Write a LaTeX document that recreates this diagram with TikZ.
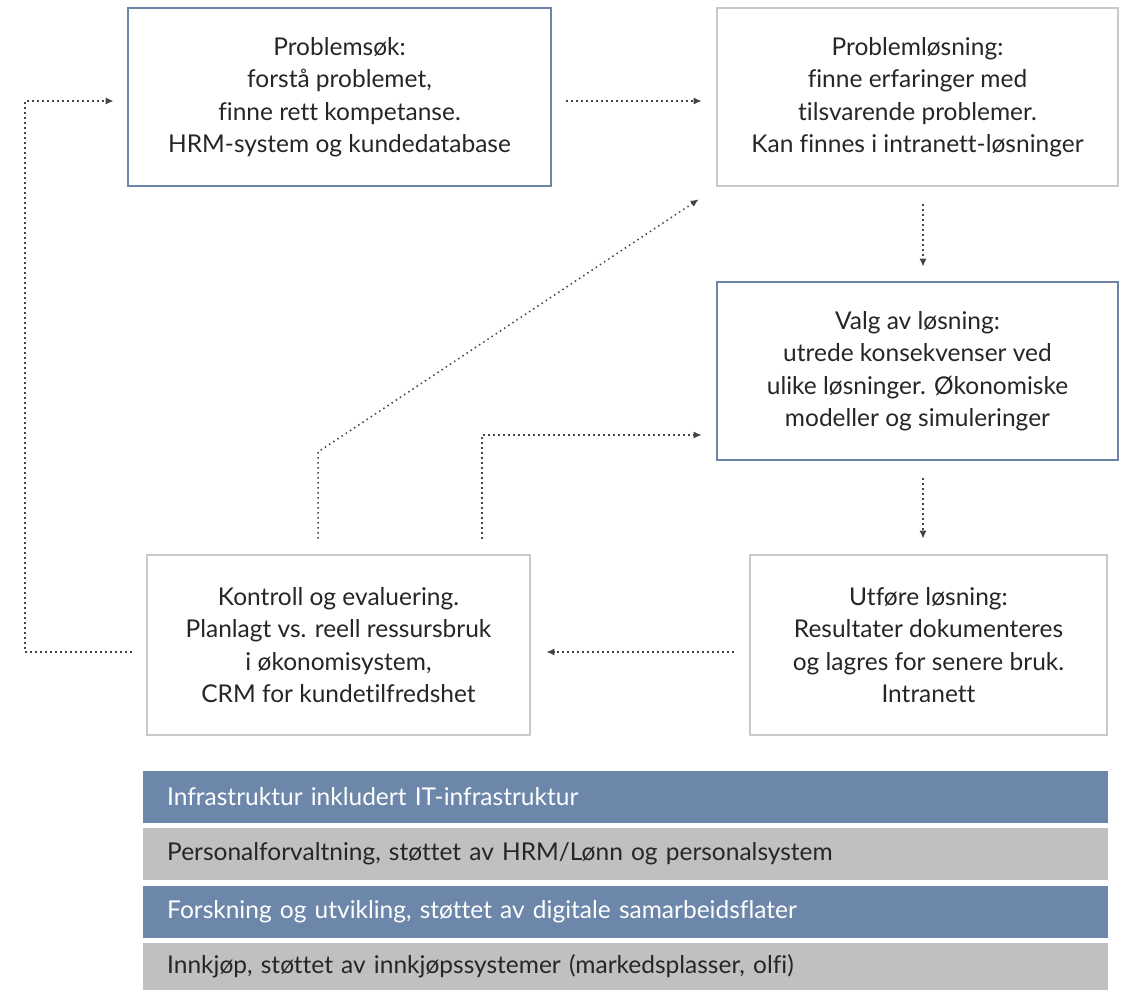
\documentclass[tikz,border=0pt]{standalone}
\usepackage{fontspec}
\setmainfont{Lato}[Ligatures={NoCommon,NoDiscretionary}]
\usetikzlibrary{arrows.meta,calc}
\definecolor{bluebd}{HTML}{6B84A8}
\definecolor{graybd}{HTML}{C9C9C9}
\definecolor{barblue}{HTML}{6D87AA}
\definecolor{bargray}{HTML}{C0C0C2}
\definecolor{txt}{HTML}{262626}
\definecolor{arr}{HTML}{444444}
\begin{document}
\begin{tikzpicture}[x=1pt,y=-1pt,
  box/.style={draw,line width=2.6pt,align=center,text=txt,inner sep=0pt,
    font=\fontsize{24.5}{32.5}\selectfont},
  bluebox/.style={box,draw=bluebd},
  graybox/.style={box,draw=graybd},
  bar/.style={anchor=west,minimum width=965pt,minimum height=52pt,inner sep=0pt,
    text width=917pt,align=left,font=\fontsize{24.5}{28}\selectfont},
  link/.style={draw=arr,line width=1.5pt,dash pattern=on 1.5pt off 3.5pt,
    -{Latex[length=8pt,width=7pt]}}
]
\useasboundingbox (0,0) rectangle (1146,990);
\fill[white] (0,0) rectangle (1146,990);

\node[bluebox,minimum width=423pt,minimum height=178pt] (b1) at (339.5,97)
 {Problemsøk:\\forstå problemet,\\finne rett kompetanse.\\HRM-system og kundedatabase};
\node[graybox,minimum width=401pt,minimum height=178pt] (b2) at (917.5,97)
 {Problemløsning:\\finne erfaringer med\\tilsvarende problemer.\\Kan finnes i intranett-løsninger};
\node[bluebox,minimum width=401pt,minimum height=178pt] (b3) at (917.5,371)
 {Valg av løsning:\\utrede konsekvenser ved\\ulike løsninger. Økonomiske\\modeller og simuleringer};
\node[graybox,minimum width=357pt,minimum height=180pt] (b4) at (928.5,645)
 {Utføre løsning:\\Resultater dokumenteres\\og lagres for senere bruk.\\Intranett};
\node[graybox,minimum width=383pt,minimum height=180pt] (b5) at (338.5,645)
 {Kontroll og evaluering.\\Planlagt vs. reell ressursbruk\\i økonomisystem,\\CRM for kundetilfredshet};

\node[bar,fill=barblue,text=white] (r1) at (143,797) {Infrastruktur inkludert IT-infrastruktur};
\node[bar,fill=bargray,text=txt] (r2) at (143,854) {Personalforvaltning, støttet av HRM/Lønn og personalsystem};
\node[bar,fill=barblue,text=white] (r3) at (143,912) {Forskning og utvikling, støttet av digitale samarbeidsflater};
\node[bar,fill=bargray,text=txt,minimum height=47pt] (r4) at (143,966.5) {Innkjøp, støttet av innkjøpssystemer (markedsplasser, olfi)};

% connectors
\draw[link] ($(b1.east)+(14,4)$) -- ($(b2.west)+(-14,4)$);
\draw[link] ($(b2.south)+(5.5,17)$) -- ($(b3.north)+(5.5,-14)$);
\draw[link] ($(b3.south)+(5.5,17)$) -- ($(b4.north)+(-5.5,-15)$);
\draw[link] ($(b4.west)+(-15,7)$) -- ($(b5.east)+(15,7)$);
\coordinate (lp) at (25,101);
\draw[link] ($(b5.west)+(-14,7)$) -| (lp) -- ($(b1.west)+(-13,4)$);
\coordinate (d1) at (318,452);
\draw[link] ($(b5.north)+(-20.5,-15)$) -- (d1) -- ($(b2.south west)+(-17,12)$);
\coordinate (s1) at (482,435);
\draw[link] ($(b5.north)+(143.5,-15)$) -- (s1) -- ($(b3.west)+(-14,64)$);
\end{tikzpicture}
\end{document}
